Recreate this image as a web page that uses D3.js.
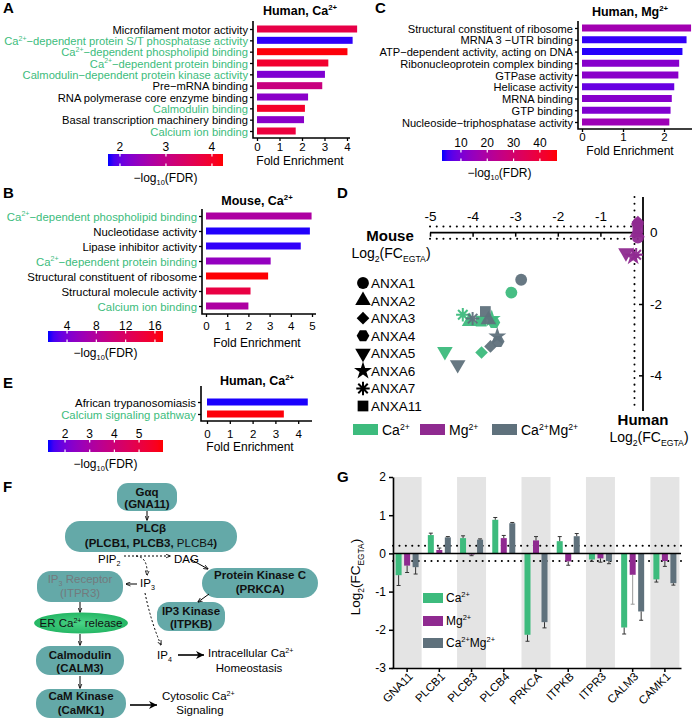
<!DOCTYPE html>
<html><head><meta charset="utf-8">
<script src="https://cdn.jsdelivr.net/npm/d3@7"></script>
<style>body{margin:0;background:#fff} text{font-family:"Liberation Sans",Arial,Helvetica,sans-serif}</style>
</head><body><svg id="c" width="696" height="719"></svg>
<script>
// ---------- DATA ----------
const A_terms = ["Microfilament motor activity","Ca^{2+}−dependent protein S/T phosphatase activity","Ca^{2+}−dependent phospholipid binding","Ca^{2+}−dependent protein binding","Calmodulin−dependent protein kinase activity","Pre−mRNA binding","RNA polymerase core enzyme binding","Calmodulin binding","Basal transcription machinery binding","Calcium ion binding"];
const A_fold = [4.45, 4.25, 4.02, 3.17, 3.02, 2.9, 2.27, 2.13, 2.09, 1.72];
const A_fdr = [3.7, 1.8, 4.2, 3.95, 2.2, 3.1, 2.3, 4.0, 2.3, 3.8];
const A_green = [0,1,1,1,1,0,0,1,0,1];
const A_cbTicks = [2,3,4];

const B_terms = ["Ca^{2+}−dependent phospholipid binding","Nucleotidase activity","Lipase inhibitor activity","Ca^{2+}−dependent protein binding","Structural constituent of ribosome","Structural molecule activity","Calcium ion binding"];
const B_fold = [4.98, 4.9, 4.47, 3.05, 2.93, 2.1, 2.0];
const B_fdr = [7.5, 1.6, 1.8, 5.5, 17.0, 14.0, 7.5];
const B_green = [1,0,0,1,0,0,1];
const B_cbTicks = [4,8,12,16];

const C_terms = ["Structural constituent of ribosome","MRNA 3 −UTR binding","ATP−dependent activity, acting on DNA","Ribonucleoprotein complex binding","GTPase activity","Helicase activity","MRNA binding","GTP binding","Nucleoside−triphosphatase activity"];
const C_fold = [2.66, 2.55, 2.45, 2.37, 2.35, 2.25, 2.19, 2.16, 2.13];
const C_fdr = [17, 4, 3.5, 12, 12.5, 8, 12, 11, 16];
const C_green = [0,0,0,0,0,0,0,0,0];
const C_cbTicks = [10,20,30,40];

const E_terms = ["African trypanosomiasis","Calcium signaling pathway"];
const E_fold = [4.42, 3.37];
const E_fdr = [1.35, 5.9];
const E_green = [0,1];
const E_cbTicks = [2,3,4,5];

const D_genes = ["ANXA1","ANXA2","ANXA3","ANXA4","ANXA5","ANXA6","ANXA7","ANXA11"];
const D_ca_mouse   = [-3.09, -4.07, -3.79, -3.50, -4.65, -3.55, -4.23, -3.80];
const D_ca_human   = [-1.68, -2.49, -3.36, -2.52, -3.33, -2.42, -2.30, -2.48];
const D_mg_mouse   = [-0.12, -0.14, -0.12, -0.13, -0.40, -0.23, -0.16, -0.12];
const D_mg_human   = [-0.14, 0.00, 0.30, 0.24, -0.56, -0.67, -0.62, 0.14];
const D_camg_mouse = [-2.86, -3.63, -3.58, -3.40, -4.35, -3.42, -4.00, -3.70];
const D_camg_human = [-1.32, -2.44, -3.19, -3.05, -3.70, -2.91, -2.41, -2.21];
const D_xTicks = [-5,-4,-3,-2,-1];
const D_yTicks = [0,-2,-4];

const G_genes = ["GNA11","PLCB1","PLCB3","PLCB4","PRKCA","ITPKB","ITPR3","CALM3","CAMK1"];
const G_ca       = [-0.57, 0.48, 0.40, 0.88, -2.13, 0.32, -0.16, -1.94, -0.68];
const G_ca_err   = [0.27, 0.05, 0.06, 0.06, 0.17, 0.12, 0.05, 0.17, 0.07];
const G_mg       = [-0.32, 0.09, -0.03, 0.40, 0.34, -0.21, -0.13, -0.56, -0.20];
const G_mg_err   = [0.18, 0.05, 0.03, 0.07, 0.10, 0.10, 0.10, 0.77, 0.14];
const G_camg     = [-0.36, 0.42, 0.36, 0.79, -1.80, 0.45, -0.20, -1.52, -0.78];
const G_camg_err = [0.18, 0.02, 0.02, 0.02, 0.15, 0.07, 0.07, 0.23, 0.05];
const G_yTicks = [2,1,0,-1,-2,-3];
const series = ["Ca^{2+}","Mg^{2+}","Ca^{2+}Mg^{2+}"];

// ---------- STYLE ----------
const GREEN="#3dbb7d", MAG="#8f2a90", GRAY="#5f717c", TEAL="#64a9a8", TXTGREEN="#3cbc7c";
const svg = d3.select("#c");
const lab = t => d3.interpolateLab("#0000ff","#ff0000")(t);

function rich(sel, str, fs) {
  const parts = str.split(/(\^\{[^}]*\}|_\{[^}]*\})/g).filter(s => s.length);
  let shift = 0;
  parts.forEach(p => {
    let t = p, target = 0, size = fs;
    if (p.startsWith("^{")) { t = p.slice(2,-1); target = -0.38*fs; size = fs*0.62; }
    else if (p.startsWith("_{")) { t = p.slice(2,-1); target = 0.28*fs; size = fs*0.62; }
    const ts = sel.append("tspan").text(t).attr("font-size", size);
    const dy = target - shift;
    if (dy !== 0) ts.attr("dy", dy);
    shift = target;
  });
  return sel;
}
function txt(x, y, str, fs, opt={}) {
  const t = svg.append("text").attr("x", x).attr("y", y).attr("font-size", fs)
    .attr("text-anchor", opt.anchor || "start").attr("fill", opt.fill || "#000");
  if (opt.bold) t.attr("font-weight", "bold");
  if (opt.transform) t.attr("transform", opt.transform);
  rich(t, str, fs);
  return t;
}

// ---------- BAR PANELS ----------
let gradId = 0;
function barPanel(cfg, terms, fold, fdr, green, cbTicks) {
  const g = svg.append("g");
  const y = d3.scalePoint().domain(terms).range([cfg.y0, cfg.y1]);
  const x = d3.scaleLinear().domain([0, 1]).range([cfg.x0, cfg.x0 + cfg.ppu]);
  const cb = d3.scaleLinear().domain(cfg.cbDomain).range([cfg.cbX0, cfg.cbX1]);
  const col = v => lab((v - cfg.cbDomain[0]) / (cfg.cbDomain[1] - cfg.cbDomain[0]));
  g.selectAll("rect.bar").data(terms).join("rect").attr("class","bar")
    .attr("x", x(0)).attr("y", d => y(d) - cfg.bh/2)
    .attr("width", (d,i) => x(fold[i]) - x(0)).attr("height", cfg.bh)
    .attr("fill", (d,i) => col(fdr[i]));
  const ya = g.append("g").attr("transform", `translate(${cfg.ax},0)`)
    .call(d3.axisLeft(y).tickSize(3).tickSizeOuter(0));
  ya.select(".domain").remove();
  ya.selectAll(".tick line").attr("stroke-width", 1.3);
  ya.selectAll(".tick text").each(function(d, i) {
    const t = d3.select(this).text(null).attr("dy", null).attr("y", cfg.fs*0.36)
      .attr("x", -5).attr("font-size", cfg.fs)
      .attr("fill", green[i] ? TXTGREEN : "#000");
    rich(t, d, cfg.fs);
  });
  const xa = g.append("g").attr("transform", `translate(0,${cfg.axY})`)
    .call(d3.axisBottom(x).tickValues(cfg.xTicks).tickSize(3).tickFormat(d3.format("d")));
  xa.select(".domain").remove();
  xa.selectAll(".tick line").attr("stroke-width", 1.3);
  xa.selectAll(".tick text").attr("dy", null).attr("y", cfg.tickLabY - cfg.axY)
    .attr("font-size", 11.5).attr("fill", "#000");
  g.append("path").attr("d", `M${cfg.ax},${cfg.axTop}V${cfg.axY}H${cfg.axEnd}`)
    .attr("fill","none").attr("stroke","#000").attr("stroke-width",1.6);
  txt(cfg.feX, cfg.feY, "Fold Enrichment", 12, {anchor:"middle"});
  txt(cfg.titleX, cfg.titleY, cfg.title, 12.5, {anchor:"middle", bold:true});
  const id = "grad" + (gradId++);
  const gr = svg.append("defs").append("linearGradient").attr("id", id);
  d3.range(0, 1.0001, 0.05).forEach(t => gr.append("stop").attr("offset", t).attr("stop-color", lab(t)));
  g.append("rect").attr("x", cfg.cbX0).attr("y", cfg.cbY).attr("width", cfg.cbX1 - cfg.cbX0)
    .attr("height", cfg.cbH).attr("fill", `url(#${id})`);
  cbTicks.forEach(v => {
    g.append("line").attr("x1", cb(v)).attr("x2", cb(v)).attr("y1", cfg.cbY).attr("y2", cfg.cbY + 2.5).attr("stroke","#fff").attr("stroke-width",1.2);
    g.append("line").attr("x1", cb(v)).attr("x2", cb(v)).attr("y1", cfg.cbY + cfg.cbH - 2.5).attr("y2", cfg.cbY + cfg.cbH).attr("stroke","#fff").attr("stroke-width",1.2);
    txt(cb(v), cfg.cbLabY, String(v), 12, {anchor:"middle"});
  });
  txt((cfg.cbX0 + cfg.cbX1)/2, cfg.cbCapY, "−log_{10}(FDR)", 12, {anchor:"middle"});
}

barPanel({y0:29, y1:131, ax:253, axTop:21, axY:138, axEnd:350, x0:257, ppu:22.5, xTicks:[0,1,2,3,4], bh:7, fs:11.2,
  tickLabY:151, feX:300, feY:165, title:"Human, Ca^{2+}", titleX:300, titleY:15,
  cbDomain:[1.74,4.24], cbX0:108, cbX1:223, cbY:154, cbH:12, cbLabY:151, cbCapY:182}, A_terms, A_fold, A_fdr, A_green, A_cbTicks);
barPanel({y0:216, y1:306, ax:202, axTop:209, axY:314, axEnd:316, x0:206, ppu:21.2, xTicks:[0,1,2,3,4,5], bh:7, fs:11.4,
  tickLabY:330, feX:257, feY:347, title:"Mouse, Ca^{2+}", titleX:257, titleY:205,
  cbDomain:[1.4,17.1], cbX0:48, cbX1:163, cbY:331, cbH:11, cbLabY:330, cbCapY:357}, B_terms, B_fold, B_fdr, B_green, B_cbTicks);
barPanel({y0:28, y1:122, ax:578, axTop:21, axY:129, axEnd:692, x0:582, ppu:41, xTicks:[0,1,2], bh:7, fs:11.1,
  tickLabY:141, feX:630, feY:155, title:"Human, Mg^{2+}", titleX:630, titleY:16,
  cbDomain:[2.8,46.5], cbX0:442, cbX1:557, cbY:150, cbH:11, cbLabY:147, cbCapY:177}, C_terms, C_fold, C_fdr, C_green, C_cbTicks);
barPanel({y0:402, y1:414, ax:201, axTop:386, axY:421, axEnd:312, x0:207, ppu:22.8, xTicks:[0,1,2,3,4], bh:7, fs:11.4,
  tickLabY:438, feX:250, feY:451, title:"Human, Ca^{2+}", titleX:257, titleY:385,
  cbDomain:[1.31,5.97], cbX0:48, cbX1:163, cbY:440, cbH:12, cbLabY:438, cbCapY:468}, E_terms, E_fold, E_fdr, E_green, E_cbTicks);

// ---------- PANEL LETTERS ----------
[["A",3,13],["B",3,198],["C",375,13],["D",337,198],["E",3,388],["F",3,492],["G",337,482]].forEach(([l,x,y]) =>
  txt(x, y, l, 15, {bold:true}));

// ---------- PANEL D ----------
(function() {
  const g = svg.append("g");
  const x = d3.scaleLinear().domain([-5, 0]).range([430, 643]);
  const y = d3.scaleLinear().domain([1, -5]).range([197, 411]);
  const dotted = (x1,y1,x2,y2) => g.append("line").attr("x1",x1).attr("y1",y1).attr("x2",x2).attr("y2",y2)
    .attr("stroke","#000").attr("stroke-width",2).attr("stroke-linecap","round").attr("stroke-dasharray","0.1,6.6");
  dotted(x(-5), y(0.17), x(0), y(0.17));
  dotted(x(-5), y(-0.17), x(0), y(-0.17));
  dotted(x(-0.2), y(1), x(-0.2), y(-5));
  const xa = g.append("g").attr("transform", `translate(0,${y(0)})`)
    .call(d3.axisBottom(x).tickValues(D_xTicks).tickSize(4).tickSizeOuter(0).tickFormat(d => String(d)));
  xa.select(".domain").remove();
  xa.selectAll(".tick line").attr("stroke-width",1.5);
  xa.selectAll(".tick text").attr("dy", null).attr("y", -12).attr("font-size", 13.5).attr("fill","#000");
  g.append("line").attr("x1", x(-5)).attr("x2", x(0)).attr("y1", y(0)).attr("y2", y(0)).attr("stroke","#000").attr("stroke-width",1.8);
  const ya = g.append("g").attr("transform", `translate(${x(0)},0)`)
    .call(d3.axisLeft(y).tickValues(D_yTicks).tickSize(4).tickSizeOuter(0).tickFormat(d => String(d)));
  ya.select(".domain").remove();
  ya.selectAll(".tick line").attr("stroke-width",1.5);
  ya.selectAll(".tick text").attr("x", 7).attr("text-anchor","start").attr("font-size", 13.5).attr("fill","#000");
  g.append("line").attr("x1", x(0)).attr("x2", x(0)).attr("y1", y(1)).attr("y2", y(-5)).attr("stroke","#000").attr("stroke-width",1.8);

  txt(390, 241, "Mouse", 15, {anchor:"middle", bold:true});
  txt(391, 258, "Log_{2}(FC_{EGTA})", 14, {anchor:"middle"});
  txt(643, 425, "Human", 15, {anchor:"middle", bold:true});
  txt(649, 442, "Log_{2}(FC_{EGTA})", 14, {anchor:"middle"});

  const hex = {draw(ctx, size) { const r = Math.sqrt(size / (1.5*Math.sqrt(3)));
    for (let i=0;i<6;i++){ const a=i*Math.PI/3; i?ctx.lineTo(r*Math.cos(a), r*Math.sin(a)):ctx.moveTo(r*Math.cos(a), r*Math.sin(a)); } ctx.closePath(); }};
  const ast = {draw(ctx, size) { const r = Math.sqrt(size)/1.7;
    for (let i=0;i<4;i++){ const a=i*Math.PI/4; ctx.moveTo(-r*Math.cos(a), -r*Math.sin(a)); ctx.lineTo(r*Math.cos(a), r*Math.sin(a)); } }};
  const symDefs = [
    {type:d3.symbolCircle, size:110, rot:0},
    {type:d3.symbolTriangle, size:105, rot:0},
    {type:d3.symbolSquare, size:80, rot:45},
    {type:hex, size:105, rot:0},
    {type:d3.symbolTriangle, size:105, rot:180},
    {type:d3.symbolStar, size:100, rot:0},
    {type:ast, size:130, rot:0, stroke:true},
    {type:d3.symbolSquare, size:115, rot:0}
  ];
  function mark(sel, i, color) {
    const s = symDefs[i];
    sel.append("path").attr("d", d3.symbol(s.type, s.size)())
      .attr("transform", `rotate(${s.rot})`)
      .attr("fill", s.stroke ? "none" : color).attr("stroke", s.stroke ? color : "none").attr("stroke-width", 2);
  }
  const sets = [[D_ca_mouse, D_ca_human, GREEN],[D_mg_mouse, D_mg_human, MAG],[D_camg_mouse, D_camg_human, GRAY]];
  sets.forEach(([mx, hy, c]) => {
    D_genes.forEach((gname, i) => {
      const gg = g.append("g").attr("transform", `translate(${x(mx[i])},${y(hy[i])})`).attr("opacity", 0.95);
      mark(gg, i, c);
    });
  });
  const ly = d3.scalePoint().domain(D_genes).range([283, 406]);
  D_genes.forEach((gname, i) => {
    const gg = g.append("g").attr("transform", `translate(363,${ly(gname)})`);
    mark(gg, i, "#000");
    txt(371, ly(gname) + 5, gname, 13.5);
  });
  const leg = [[353, GREEN, "Ca^{2+}"],[420, MAG, "Mg^{2+}"],[492, GRAY, "Ca^{2+}Mg^{2+}"]];
  leg.forEach(([lx, c, s]) => {
    g.append("rect").attr("x", lx).attr("y", 424).attr("width", 25).attr("height", 11).attr("fill", c);
    txt(lx + 29, 435, s, 14);
  });
})();

// ---------- PANEL F ----------
(function() {
  const g = svg.append("g");
  const defs = svg.append("defs");
  defs.append("marker").attr("id","ah").attr("viewBox","0 0 10 10").attr("refX",9).attr("refY",5)
    .attr("markerWidth",5).attr("markerHeight",5).attr("orient","auto")
    .append("path").attr("d","M0,1L10,5L0,9").attr("fill","none").attr("stroke","#000").attr("stroke-width",1.6);
  defs.append("marker").attr("id","ahBig").attr("viewBox","0 0 10 10").attr("refX",10).attr("refY",5)
    .attr("markerWidth",10).attr("markerHeight",8).attr("orient","auto").attr("markerUnits","userSpaceOnUse")
    .append("path").attr("d","M0,0L10,5L0,10L3,5Z").attr("fill","#000");
  const eg = defs.append("radialGradient").attr("id","erg");
  eg.append("stop").attr("offset",0).attr("stop-color","#4ad386");
  eg.append("stop").attr("offset",1).attr("stop-color","#25b765");

  function box(x1,y1,x2,y2,rx,lines,opt={}) {
    g.append("rect").attr("x",x1).attr("y",y1).attr("width",x2-x1).attr("height",y2-y1).attr("rx",rx).attr("fill",TEAL);
    lines.forEach(([s, yy]) => txt((x1+x2)/2, yy, s, 11.5, {anchor:"middle", bold:!opt.normal, fill:opt.fill||"#111"}));
  }
  function arrow(d, big, dashed) {
    const p = g.append("path").attr("d", d).attr("fill","none").attr("stroke","#000")
      .attr("stroke-width", big ? 1.6 : 1).attr("marker-end", big ? "url(#ahBig)" : "url(#ah)");
    if (dashed) p.attr("stroke-dasharray","2,2");
  }
  box(117,483,177,511,11,[["Gαq",496],["(GNA11)",508]]);
  box(65,521,237,552,15,[["PLCβ",532],["",546]]);
  const pl = svg.append("text").attr("x",151).attr("y",547).attr("text-anchor","middle").attr("font-size",11.5).attr("fill","#111");
  pl.append("tspan").text("(PLCB1, PLCB3, ").attr("font-weight","bold");
  pl.append("tspan").text("PLCB4");
  pl.append("tspan").text(")").attr("font-weight","bold");
  box(202,568,318,598,15,[["Protein Kinase C",579],["(PRKCA)",593]]);
  box(157,602,225,631,12,[["IP3 Kinase",615],["(ITPKB)",628]]);
  box(37,571,123,602,14,[["IP_{3} Receptor",583],["(ITPR3)",597]],{normal:true, fill:"#737a7d"});
  g.append("ellipse").attr("cx",81).attr("cy",623).attr("rx",47).attr("ry",10.5).attr("fill","url(#erg)");
  txt(81, 627, "ER Ca^{2+} release", 11.5, {anchor:"middle", fill:"#111"});
  box(36,646,124,675,14,[["Calmodulin",659],["(CALM3)",672]]);
  box(36,689,126,718,14,[["CaM Kinase",700],["(CaMK1)",714]]);

  arrow("M147,511V520");
  arrow("M80,602V612"); arrow("M80,634V645"); arrow("M80,676V688");
  txt(98, 563, "PIP_{2}", 11.5);
  txt(174, 563, "DAG", 11.5);
  arrow("M124,556H170", false, true);
  arrow("M136,556Q148,557 147,575", false, true);
  txt(140, 587, "IP_{3}", 11.5);
  arrow("M137,584H126");
  arrow("M145,593Q151,622 161,645", false, true);
  txt(157, 659, "IP_{4}", 11.5);
  arrow("M190,559L208,569");
  arrow("M209,594L198,602");
  arrow("M178,655H204", true);
  txt(208, 657, "Intracellular Ca^{2+}", 11.5);
  txt(249, 672, "Homeostasis", 11.5, {anchor:"middle"});
  arrow("M130,705H157", true);
  txt(162, 700, "Cytosolic Ca^{2+}", 11.5);
  txt(200, 714, "Signaling", 11.5, {anchor:"middle"});
})();

// ---------- PANEL G ----------
(function() {
  const g = svg.append("g");
  const x = d3.scaleBand().domain(G_genes).range([391, 681]);
  const y = d3.scaleLinear().domain([-3, 2]).range([668, 477]);
  G_genes.forEach((gn, i) => { if (i % 2 === 0)
    g.append("rect").attr("x", x(gn) + x.bandwidth()/2 - 14.5).attr("y", y(2)).attr("width", 29).attr("height", y(-3) - y(2)).attr("fill", "#e4e4e4"); });
  const dotted = yy => g.append("line").attr("x1", 393).attr("x2", 681).attr("y1", y(yy)).attr("y2", y(yy))
    .attr("stroke","#000").attr("stroke-width",2).attr("stroke-linecap","round").attr("stroke-dasharray","0.1,6.3");
  dotted(0.2); dotted(-0.2);
  const sdata = [[G_ca, G_ca_err, GREEN],[G_mg, G_mg_err, MAG],[G_camg, G_camg_err, GRAY]];
  sdata.forEach(([vals, errs, c], si) => {
    G_genes.forEach((gn, i) => {
      const cx = x(gn) + x.bandwidth()/2 + (si - 1) * 8.5;
      const v = vals[i], e = errs[i], tip = v + Math.sign(v) * e;
      const ec = si === 1 && i === 7 ? "#999" : "#333";
      g.append("rect").attr("x", cx - 3).attr("width", 6).attr("y", y(Math.max(0, v))).attr("height", Math.abs(y(v) - y(0))).attr("fill", c);
      g.append("line").attr("x1", cx).attr("x2", cx).attr("y1", y(v)).attr("y2", y(tip)).attr("stroke", ec).attr("stroke-width", 1);
      g.append("line").attr("x1", cx - 2).attr("x2", cx + 2).attr("y1", y(tip)).attr("y2", y(tip)).attr("stroke", ec).attr("stroke-width", 1);
    });
  });
  g.append("line").attr("x1", 393).attr("x2", 681).attr("y1", y(0)).attr("y2", y(0)).attr("stroke","#000").attr("stroke-width",1.5);
  const ya = g.append("g").attr("transform","translate(393,0)")
    .call(d3.axisLeft(y).tickValues(G_yTicks).tickSize(4).tickSizeOuter(0).tickFormat(d => String(d)));
  ya.select(".domain").attr("stroke-width",1.6);
  ya.selectAll(".tick line").attr("stroke-width",1.5);
  ya.selectAll(".tick text").attr("font-size",12).attr("fill","#000");
  const xa = g.append("g").attr("transform",`translate(0,${y(-3)})`)
    .call(d3.axisBottom(x).tickSize(4).tickSizeOuter(0));
  xa.select(".domain").attr("stroke-width",1.6);
  xa.selectAll(".tick line").attr("stroke-width",1.5);
  xa.selectAll(".tick text").attr("font-size",11.5).attr("fill","#000")
    .attr("text-anchor","end").attr("x",-2).attr("y",7).attr("dy","0.35em").attr("transform","rotate(-45)");
  txt(0, 0, "Log_{2}(FC_{EGTA})", 13.5, {anchor:"middle", transform:"translate(360,577) rotate(-90)"});
  const legY = [598, 621, 643];
  [GREEN, MAG, GRAY].forEach((c, i) => {
    g.append("rect").attr("x", 423).attr("y", legY[i] - 5).attr("width", 20).attr("height", 10).attr("fill", c);
    txt(446, legY[i] + 4, series[i], 12);
  });
})();
</script></body></html>
